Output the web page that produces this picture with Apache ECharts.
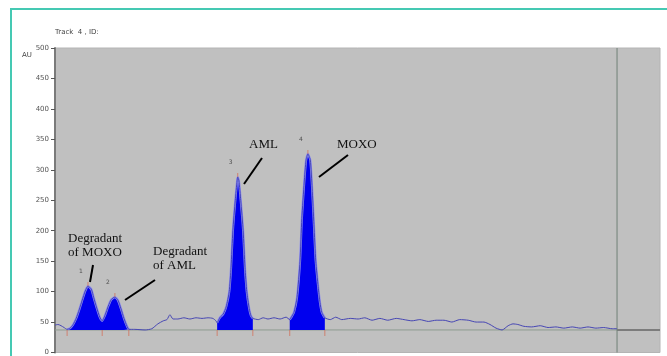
<!DOCTYPE html>
<html>
<head>
<meta charset="utf-8">
<script src="https://cdn.jsdelivr.net/npm/echarts@6/dist/echarts.min.js"></script>
<style>
  html, body { margin: 0; padding: 0; background: #ffffff; }
  #chart { width: 667px; height: 356px; }
</style>
</head>
<body>
<div id="chart"></div>
<script>
// Chromatogram trace: retention time (min) and detector response (AU)
const timeMin = [
  0.00, 0.05, 0.10, 0.15, 0.20, 0.25, 0.30, 0.35, 0.40, 0.45, 0.50, 0.545, 0.60, 0.64, 0.69, 0.74, 0.78,
  0.83, 0.88, 0.93, 0.99, 1.04, 1.09, 1.14, 1.19, 1.22,
  1.32, 1.49, 1.60, 1.70, 1.79, 1.85, 1.90, 1.95, 2.03, 2.13, 2.23, 2.33, 2.43, 2.53, 2.61, 2.66,
  2.68, 2.73, 2.78, 2.83, 2.88, 2.91, 2.94, 2.98, 3.01, 3.02, 3.04, 3.07, 3.11, 3.14, 3.17, 3.21, 3.24, 3.27,
  3.36, 3.44, 3.52, 3.62, 3.72, 3.82, 3.88,
  3.90, 3.95, 4.00, 4.05, 4.08, 4.12, 4.15, 4.18, 4.22, 4.25, 4.28, 4.31, 4.35, 4.38, 4.41, 4.46,
  4.55, 4.64, 4.74, 4.88, 5.01, 5.12, 5.24, 5.37, 5.50, 5.64, 5.77, 5.90, 6.03, 6.17, 6.30, 6.43,
  6.56, 6.69, 6.83, 6.96, 7.09, 7.19, 7.29, 7.39, 7.49, 7.57, 7.65, 7.75, 7.88, 8.02, 8.15, 8.28,
  8.41, 8.55, 8.68, 8.81, 8.94, 9.07, 9.21, 9.29
];
const signalAU = [
  45, 46, 44, 41, 38, 40, 46, 56, 70, 86, 101, 109, 104, 90, 73, 58, 52,
  62, 76, 87, 91, 86, 72, 56, 43, 38,
  38, 37, 39, 47, 52, 54, 62, 55, 55, 57, 55, 57, 56, 57, 56, 52,
  49, 58, 63, 75, 100, 140, 200, 250, 282, 288, 282, 250, 200, 140, 100, 72, 60, 56,
  54, 57, 55, 57, 55, 58, 54,
  57, 66, 90, 150, 220, 280, 316, 326, 316, 270, 210, 150, 108, 82, 66, 57,
  54, 58, 54, 56, 55, 57, 53, 56, 53, 56, 54, 52, 54, 51, 53, 53,
  50, 54, 53, 50, 50, 46, 40, 37, 44, 47, 46, 43, 42, 44, 41, 42,
  40, 42, 40, 42, 40, 41, 39, 39
];

// Integration baseline and peak windows
const baselineAU = 37;
const peakWindows = [[0.20, 1.22], [2.68, 3.27], [3.88, 4.46]];
const markerTimes = [0.20, 0.78, 1.22, 2.68, 3.27, 3.88, 4.46];

// Peak apexes and their numbers
const peakIds = ['1', '2', '3', '4'];
const apexTime = [0.545, 0.99, 3.02, 4.18];
const apexAU = [109, 91, 288, 326];

// Axis ranges
const timeRange = [0, 10];
const auRange = [0, 500];
const auStep = 50;
const runEndTime = 9.29;

const trace = timeMin.map((t, i) => [t, signalAU[i]]);

const fillSeries = peakWindows.map(([a, b]) => ({
  type: 'line',
  data: trace.filter(([t]) => t >= a - 1e-9 && t <= b + 1e-9),
  symbol: 'none',
  smooth: 0.2,
  lineStyle: { color: '#8a8af2', width: 2.2 },
  areaStyle: { color: '#0000ee', opacity: 1, origin: baselineAU },
  z: 3,
  silent: true
}));

const chart = echarts.init(document.getElementById('chart'), null, { renderer: 'canvas' });

chart.setOption({
  animation: false,
  backgroundColor: '#ffffff',
  grid: {
    left: 55, top: 48, width: 605, height: 307,
    show: true, backgroundColor: '#c0c0c0', borderColor: '#b4b4b4', borderWidth: 1
  },
  xAxis: {
    type: 'value', min: timeRange[0], max: timeRange[1],
    axisLine: { show: false }, axisTick: { show: false },
    axisLabel: { show: false }, splitLine: { show: false }
  },
  yAxis: {
    type: 'value', min: auRange[0], max: auRange[1], interval: auStep,
    axisLine: { show: true, lineStyle: { color: '#7a7a7a', width: 2 } },
    axisTick: { show: true, length: 4, lineStyle: { color: '#555', width: 1 } },
    axisLabel: { fontSize: 7, color: '#555', margin: 6, fontFamily: 'DejaVu Sans' },
    splitLine: { show: false }
  },
  series: [
    // baseline up to end of run, then beyond it
    {
      type: 'line', data: [[timeRange[0], baselineAU], [runEndTime, baselineAU]],
      symbol: 'none', lineStyle: { color: '#8e9c90', width: 1 }, z: 2, silent: true
    },
    {
      type: 'line', data: [[runEndTime, baselineAU], [timeRange[1], baselineAU]],
      symbol: 'none', lineStyle: { color: '#666', width: 1.5 }, z: 2, silent: true
    },
    // end-of-run cursor
    {
      type: 'line', data: [[runEndTime, auRange[0]], [runEndTime, auRange[1]]],
      symbol: 'none', lineStyle: { color: '#6f8077', width: 1 }, z: 2, silent: true
    },
    ...fillSeries,
    // detector trace
    {
      type: 'line', data: trace, symbol: 'none', smooth: 0.2,
      lineStyle: { color: '#4646b4', width: 1 }, z: 4, silent: true
    },
    // integration event marks on the baseline
    {
      type: 'scatter', data: markerTimes.map(t => [t, baselineAU]),
      symbol: 'rect', symbolSize: [1, 6], symbolOffset: [0, 3],
      itemStyle: { color: '#d2705a' }, z: 5, silent: true
    },
    // apex marks with peak numbers
    {
      type: 'scatter', data: apexTime.map((t, i) => ({ value: [t, apexAU[i]], name: peakIds[i] })),
      symbol: 'rect', symbolSize: [1, 4], symbolOffset: [0, -2],
      itemStyle: { color: '#d2705a' }, z: 5, silent: true,
      label: {
        show: true, formatter: p => p.name, position: 'top', offset: [-7, -3],
        fontSize: 6, color: '#333', fontFamily: 'DejaVu Sans'
      }
    }
  ],
  graphic: [
    // frame: top and left edges
    { type: 'line', shape: { x1: 10, y1: 9, x2: 667, y2: 9 }, style: { stroke: '#45c9b3', lineWidth: 2 }, silent: true },
    { type: 'line', shape: { x1: 11, y1: 8, x2: 11, y2: 356 }, style: { stroke: '#45c9b3', lineWidth: 2 }, silent: true },
    { type: 'text', x: 55, y: 29, style: { text: 'Track  4 , ID:', font: '7px "DejaVu Sans"', fill: '#444' } },
    { type: 'text', x: 22, y: 52, style: { text: 'AU', font: '7px "DejaVu Sans"', fill: '#444' } },
    { type: 'text', x: 68, y: 232, style: { text: 'Degradant\nof MOXO', font: '13px "Liberation Serif"', lineHeight: 14, fill: '#111' } },
    { type: 'text', x: 153, y: 245, style: { text: 'Degradant\nof AML', font: '13px "Liberation Serif"', lineHeight: 14, fill: '#111' } },
    { type: 'text', x: 249, y: 138, style: { text: 'AML', font: '13px "Liberation Serif"', fill: '#111' } },
    { type: 'text', x: 337, y: 138, style: { text: 'MOXO', font: '13px "Liberation Serif"', fill: '#111' } },
    { type: 'line', shape: { x1: 93, y1: 265, x2: 90, y2: 282 }, style: { stroke: '#000', lineWidth: 2 } },
    { type: 'line', shape: { x1: 155, y1: 280, x2: 125, y2: 300 }, style: { stroke: '#000', lineWidth: 2 } },
    { type: 'line', shape: { x1: 262, y1: 158, x2: 244, y2: 184 }, style: { stroke: '#000', lineWidth: 2 } },
    { type: 'line', shape: { x1: 348, y1: 155, x2: 319, y2: 177 }, style: { stroke: '#000', lineWidth: 2 } }
  ]
});
</script>
</body>
</html>
